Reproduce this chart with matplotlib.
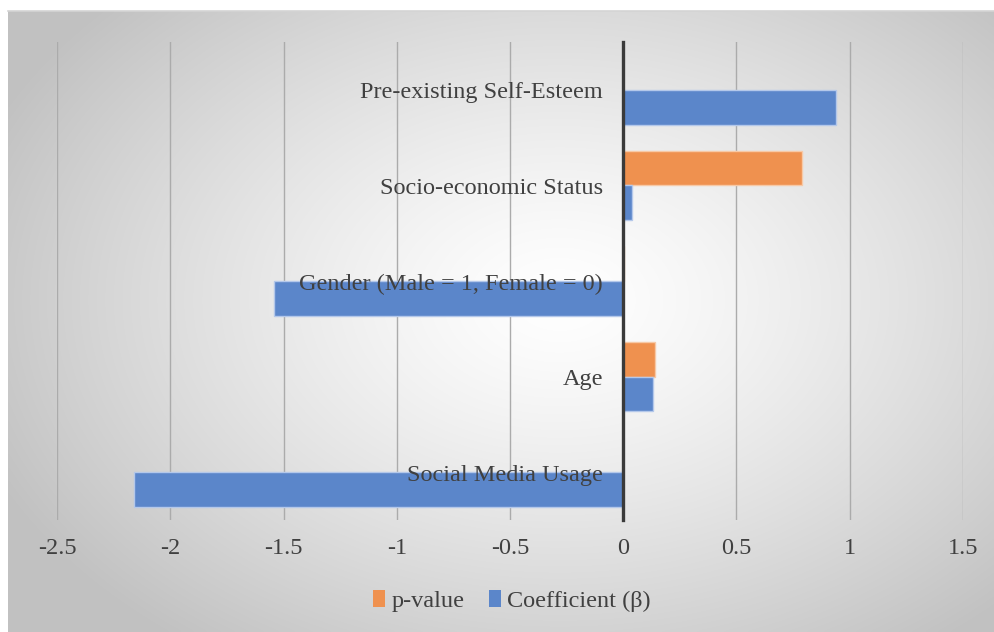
import numpy as np
import matplotlib
matplotlib.use("Agg")
from matplotlib import pyplot as plt
from matplotlib.transforms import offset_copy

categories = ["Social Media Usage", "Age", "Gender (Male = 1, Female = 0)",
              "Socio-economic Status", "Pre-existing Self-Esteem"]
coefficient = [-2.16, 0.13, -1.54, 0.04, 0.94]
p_value = [0.001, 0.14, 0.004, 0.79, 0.001]
x_ticks = [-2.5, -2, -1.5, -1, -0.5, 0, 0.5, 1, 1.5]
x_tick_labels = ["-2.5", "-2", "-1.5", "-1", "-0.5", "0", "0.5", "1", "1.5"]

plt.rcParams["font.family"] = ["Liberation Serif", "DejaVu Serif"]
text_col = "#404040"
blue = "#5B86CA"
orange = "#EF914F"
fs = 17.5

W, H = 995, 632
fig = plt.figure(figsize=(W / 100, H / 100), dpi=100)

# radial grey background like the office chart style
bg = fig.add_axes([8 / W, 0, 1 - 8 / W, (H - 11) / H], zorder=-2)
gx, gy = np.meshgrid(np.linspace(8, W, 400), np.linspace(11, H, 260))
r = np.sqrt(((gx - 560) / 620) ** 2 + ((gy - 300) / 430) ** 2)
shade = 1 - 0.24 * np.clip(r, 0, 1) ** 1.3
bg.imshow(np.dstack([shade] * 3), aspect="auto", extent=[0, 1, 0, 1],
          interpolation="bicubic")
bg.axis("off")
fig.add_artist(plt.Line2D([8 / W, 1], [1 - 11 / H, 1 - 11 / H],
                          color="#d4d4d4", lw=1.2, transform=fig.transFigure))

ax = fig.add_axes([57 / W, (H - 520) / H, 906 / W, 478 / H])
ax.set_facecolor("none")

y = np.arange(len(categories))
h = 0.365
ax.barh(y + h / 2, p_value, height=h, color=orange, edgecolor="#f7c9a6",
        linewidth=1, label="p-value", zorder=3)
ax.barh(y - h / 2, coefficient, height=h, color=blue, edgecolor="#b4c8ea",
        linewidth=1, label="Coefficient (\u03b2)", zorder=3)

ax.set_xlim(-2.5, 1.5)
ax.set_ylim(-0.5, 4.5)
ax.set_xticks(x_ticks)
ax.set_xticklabels(x_tick_labels)
ax.set_yticks([])
ax.tick_params(axis="x", length=0, pad=13, labelsize=fs, labelcolor=text_col)

# category labels sit next to the zero axis, drawn over the bars
lab_tr = offset_copy(ax.transData, fig=fig, x=-20, y=-3, units="dots")
for yi, name in zip(y, categories):
    ax.text(0, yi, name, transform=lab_tr, ha="right", va="center",
            fontsize=fs, color=text_col, zorder=6)

ax.grid(axis="x", color="#ababab", linewidth=1, zorder=0)
for s in ["top", "right", "bottom"]:
    ax.spines[s].set_visible(False)
ax.spines["left"].set_position(("data", 0))
ax.spines["left"].set_color("#3a3a3a")
ax.spines["left"].set_linewidth(2.4)
ax.spines["left"].set_zorder(4)

leg = fig.legend(loc="center", bbox_to_anchor=(512 / W, 1 - 601 / H), ncol=2,
                 frameon=False, fontsize=fs, handlelength=0.5,
                 handleheight=0.7, handletextpad=0.25, columnspacing=1.0)
for t in leg.get_texts():
    t.set_color(text_col)
for hnd in leg.legend_handles:
    hnd.set_linewidth(0)

fig.savefig("out.png", dpi=100)
